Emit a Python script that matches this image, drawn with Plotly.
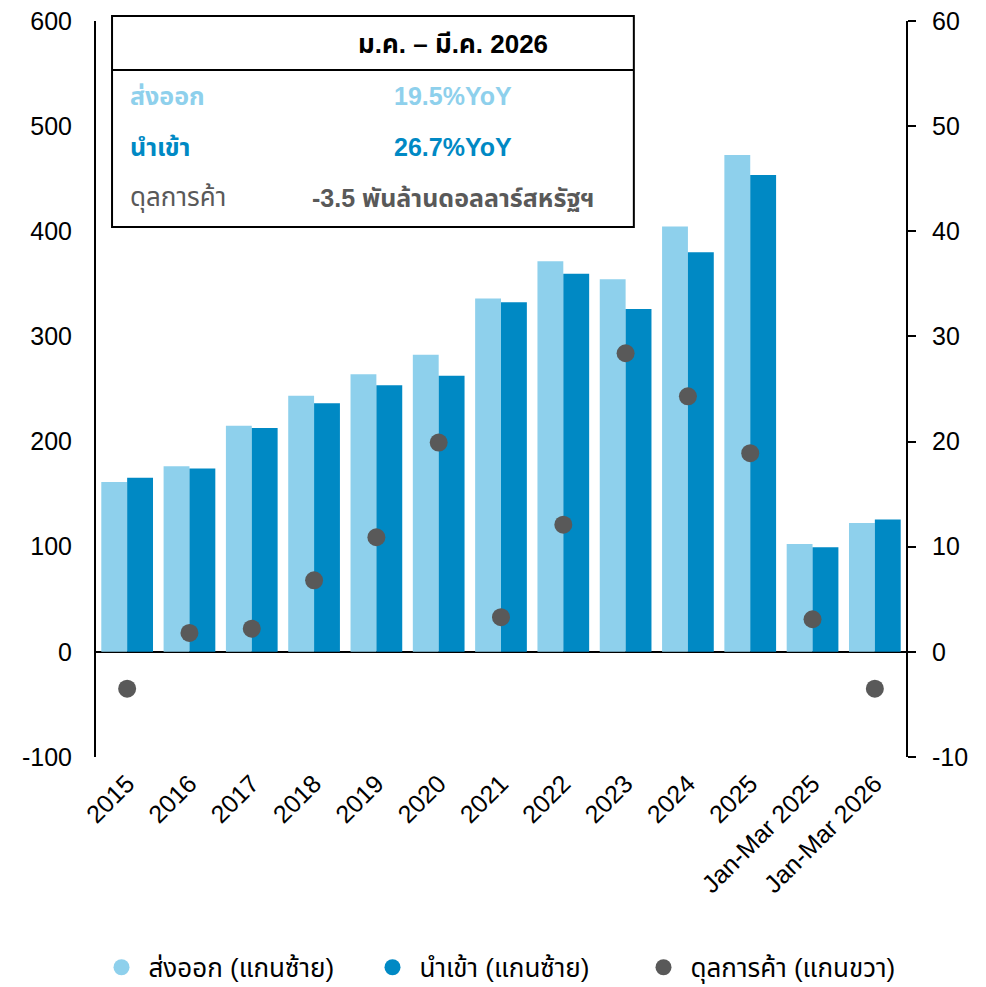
import plotly.graph_objects as go

categories = ["2015", "2016", "2017", "2018", "2019", "2020", "2021", "2022",
              "2023", "2024", "2025", "Jan-Mar 2025", "Jan-Mar 2026"]
exports = [161.5, 176.5, 215, 243.5, 264, 282.5, 336, 371.5, 354.5, 404.5, 472.5, 102.5, 122.5]
imports = [165.5, 174.5, 213, 236.5, 253.5, 262.5, 332.5, 359.5, 326, 380, 453.5, 99.5, 126]
balance = [-3.5, 1.8, 2.2, 6.8, 10.9, 19.9, 3.3, 12.1, 28.4, 24.3, 18.9, 3.1, -3.5]

left_ticks = [-100, 0, 100, 200, 300, 400, 500, 600]
left_ticktext = ["-100", "0", "100", "200", "300", "400", "500", "600"]
right_ticks = [-10, 0, 10, 20, 30, 40, 50, 60]
right_ticktext = ["-10", "0", "10", "20", "30", "40", "50", "60"]

name_exp = "ส่งออก (แกนซ้าย)"
name_imp = "นำเข้า (แกนซ้าย)"
name_bal = "ดุลการค้า (แกนขวา)"

C_EXP = "#8ED0EC"
C_IMP = "#0089C4"
C_BAL = "#595959"

FONT = "Arial, 'Liberation Sans', 'Noto Sans Thai', sans-serif"

fig = go.Figure()
fig.add_trace(go.Bar(x=categories, y=exports, marker=dict(color=C_EXP, line=dict(width=0)),
                     name=name_exp, showlegend=False))
fig.add_trace(go.Bar(x=categories, y=imports, marker=dict(color=C_IMP, line=dict(width=0)),
                     name=name_imp, showlegend=False))
fig.add_trace(go.Scatter(x=categories, y=balance, mode="markers", yaxis="y2",
                         marker=dict(color=C_BAL, size=18), name=name_bal, showlegend=False))

# legend-only entries (circles)
for nm, col in [(name_exp, C_EXP), (name_imp, C_IMP), (name_bal, C_BAL)]:
    fig.add_trace(go.Scatter(x=[None], y=[None], mode="markers", name=nm,
                             marker=dict(color=col, size=26, symbol="circle")))

# summary box
fig.add_shape(type="rect", xref="paper", yref="paper", x0=0.0198, x1=0.664, y0=0.720, y1=1.0068,
              line=dict(color="black", width=2), fillcolor="white", layer="above")
fig.add_shape(type="line", xref="paper", yref="paper", x0=0.0198, x1=0.664, y0=0.9334, y1=0.9334,
              line=dict(color="black", width=2), layer="above")

def ann(text, x, y, color, size=25, xanchor="left", bold=True):
    fig.add_annotation(text=("<b>%s</b>" % text) if bold else text, x=x, y=y, xref="paper", yref="paper",
                       showarrow=False, xanchor=xanchor, yanchor="middle",
                       font=dict(family=FONT, size=size, color=color))

ann("ม.ค. – มี.ค. 2026", 0.441, 0.969, "black", size=26, xanchor="center")
ann("ส่งออก", 0.0395, 0.898, C_EXP)
ann("19.5%YoY", 0.441, 0.898, C_EXP, xanchor="center")
ann("นำเข้า", 0.0395, 0.829, C_IMP)
ann("26.7%YoY", 0.441, 0.829, C_IMP, xanchor="center")
ann("ดุลการค้า", 0.0395, 0.760, C_BAL, size=26, bold=False)
ann("-3.5 พันล้านดอลลาร์สหรัฐฯ", 0.441, 0.760, C_BAL, xanchor="center")

fig.update_layout(
    width=986, height=987,
    margin=dict(l=88, r=88, t=13, b=238),
    paper_bgcolor="white", plot_bgcolor="white",
    font=dict(family=FONT, size=26, color="black"),
    barmode="group", bargap=0.17, bargroupgap=0,
    xaxis=dict(type="category", range=[-0.5, 12.5], tickangle=-45, showline=False, ticks="",
               showgrid=False, tickfont=dict(size=25), automargin=False,
               ticklabelstandoff=6, ticklabeloverflow="allow"),
    yaxis=dict(range=[-100, 600], tickvals=left_ticks, ticktext=left_ticktext, showgrid=False,
               showline=True, linecolor="black", linewidth=2, ticks="", zeroline=True,
               zerolinecolor="black", zerolinewidth=2, tickfont=dict(size=25),
               ticklabelstandoff=17, automargin=False, ticklabeloverflow="allow"),
    yaxis2=dict(range=[-10, 60], tickvals=right_ticks, ticktext=right_ticktext, overlaying="y",
                side="right", showgrid=False, showline=True, linecolor="black", linewidth=2,
                ticks="outside", ticklen=8, tickwidth=2, tickcolor="black", zeroline=False,
                tickfont=dict(size=25), ticklabelstandoff=11, automargin=False,
                ticklabeloverflow="allow"),
    legend=dict(orientation="h", x=0.5, xanchor="center", yref="container", y=0.028,
                yanchor="middle", font=dict(size=26), itemsizing="trace", traceorder="normal",
                itemwidth=44, entrywidth=212, entrywidthmode="pixels"),
)

fig.write_html("out.html")
